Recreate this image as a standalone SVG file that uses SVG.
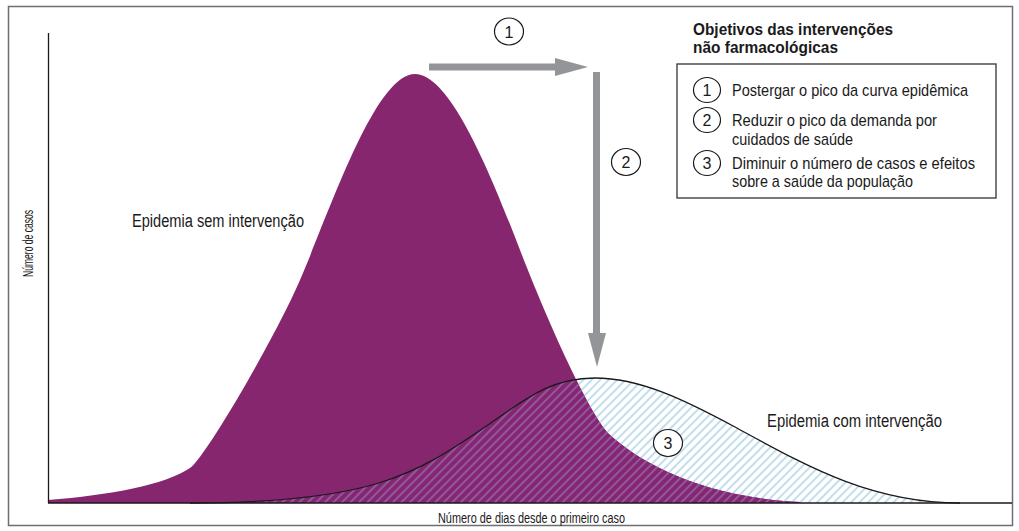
<svg xmlns="http://www.w3.org/2000/svg" width="1019" height="531" viewBox="0 0 1019 531">
<style>
.t{font-family:"Liberation Sans",Arial,sans-serif;fill:#1a1a1a}
.lg{font-size:17px}
.num{font-family:"Liberation Sans",Arial,sans-serif;font-size:16px;fill:#1a1a1a;text-anchor:middle}
.circ{fill:#fff;stroke:#1a1a1a;stroke-width:1.2}
.arr{fill:#939598}
</style>
<defs>
<pattern id="hatchBlue" patternUnits="userSpaceOnUse" width="6" height="6" patternTransform="rotate(45)">
<line x1="3" y1="0" x2="3" y2="6" stroke="#86bcd8" stroke-width="1"/>
</pattern>
<pattern id="hatchLav" patternUnits="userSpaceOnUse" width="6" height="6" patternTransform="rotate(45)">
<line x1="3" y1="0" x2="3" y2="6" stroke="#9c88d4" stroke-width="1"/>
</pattern>
<clipPath id="purpleClip">
<path d="M48,503 L48,500 C110,495 165,485 190,468 C205,458 275,338 300,280 C330,211 375,74 415,74 C450,74 490,172 520,250 C545,315 590,417 610,435 C640,462 700,497 800,502 L800,503 Z"/>
</clipPath>
</defs>
<rect x="8.5" y="6.5" width="1004" height="519" fill="#fff" stroke="#6d6e71" stroke-width="1.5"/>

<g id="curve-sem">
<path d="M48,503 L48,500 C110,495 165,485 190,468 C205,458 275,338 300,280 C330,211 375,74 415,74 C450,74 490,172 520,250 C545,315 590,417 610,435 C640,462 700,497 800,502 L800,503 Z" fill="#85266f"/>
<text class="t" x="132" y="227" font-size="18" textLength="172" lengthAdjust="spacingAndGlyphs">Epidemia sem intervenção</text>
</g>

<g id="curve-com">
<path d="M190,503 C370,503 415,475 485,427 C525,399.4 550,378 595,378 C640,378 685,400 735,427 C805,465 870,503 960,503 Z" fill="url(#hatchBlue)"/>
<path d="M190,503 C370,503 415,475 485,427 C525,399.4 550,378 595,378 C640,378 685,400 735,427 C805,465 870,503 960,503 Z" fill="#85266f" clip-path="url(#purpleClip)"/>
<path d="M190,503 C370,503 415,475 485,427 C525,399.4 550,378 595,378 C640,378 685,400 735,427 C805,465 870,503 960,503 Z" fill="url(#hatchLav)" clip-path="url(#purpleClip)"/>
<path d="M190,503 C370,503 415,475 485,427 C525,399.4 550,378 595,378 C640,378 685,400 735,427 C805,465 870,503 960,503" fill="none" stroke="#1a1a1a" stroke-width="1.3"/>
<text class="t" x="767" y="427" font-size="18" textLength="175" lengthAdjust="spacingAndGlyphs">Epidemia com intervenção</text>
</g>

<g id="axes">
<line x1="48.5" y1="33" x2="48.5" y2="503" stroke="#1a1a1a" stroke-width="1.3"/>
<line x1="48" y1="503" x2="1012" y2="503" stroke="#1a1a1a" stroke-width="1.3"/>
<text class="t" font-size="14" transform="translate(33,277) rotate(-90)" textLength="67" lengthAdjust="spacingAndGlyphs">Número de casos</text>
<text class="t" x="438" y="523" font-size="14" textLength="187" lengthAdjust="spacingAndGlyphs">Número de dias desde o primeiro caso</text>
</g>

<g id="connectors">
<rect class="arr" x="429" y="63.5" width="127" height="7"/>
<polygon class="arr" points="555,58 588,67 555,76"/>
<rect class="arr" x="593" y="72" width="7" height="262"/>
<polygon class="arr" points="588,333 606,333 597,367"/>
</g>

<g id="marker-1">
<ellipse class="circ" cx="509" cy="31.5" rx="14.5" ry="13.5"/>
<text class="num" x="509" y="37.5">1</text>
</g>
<g id="marker-2">
<ellipse class="circ" cx="626" cy="162" rx="14.5" ry="13.5"/>
<text class="num" x="626" y="168">2</text>
</g>
<g id="marker-3">
<ellipse class="circ" cx="668" cy="443" rx="14.5" ry="13.5"/>
<text class="num" x="668" y="449">3</text>
</g>

<g id="legend">
<text class="t" x="693" y="35" font-size="17" font-weight="bold" textLength="200" lengthAdjust="spacingAndGlyphs">Objetivos das intervenções</text>
<text class="t" x="693" y="53" font-size="17" font-weight="bold" textLength="145" lengthAdjust="spacingAndGlyphs">não farmacológicas</text>
<rect x="677" y="64" width="319" height="134" fill="#fff" stroke="#333" stroke-width="1.3"/>
<ellipse class="circ" cx="707" cy="90" rx="13.5" ry="12.5"/>
<text class="num" x="707" y="96">1</text>
<text class="t lg" x="732" y="96" textLength="236" lengthAdjust="spacingAndGlyphs">Postergar o pico da curva epidêmica</text>
<ellipse class="circ" cx="707" cy="120" rx="13.5" ry="12.5"/>
<text class="num" x="707" y="126">2</text>
<text class="t lg" x="732" y="126" textLength="205" lengthAdjust="spacingAndGlyphs">Reduzir o pico da demanda por</text>
<text class="t lg" x="732" y="145" textLength="121" lengthAdjust="spacingAndGlyphs">cuidados de saúde</text>
<ellipse class="circ" cx="707" cy="163" rx="13.5" ry="12.5"/>
<text class="num" x="707" y="169">3</text>
<text class="t lg" x="732" y="169" textLength="243" lengthAdjust="spacingAndGlyphs">Diminuir o número de casos e efeitos</text>
<text class="t lg" x="732" y="187" textLength="181" lengthAdjust="spacingAndGlyphs">sobre a saúde da população</text>
</g>
</svg>
